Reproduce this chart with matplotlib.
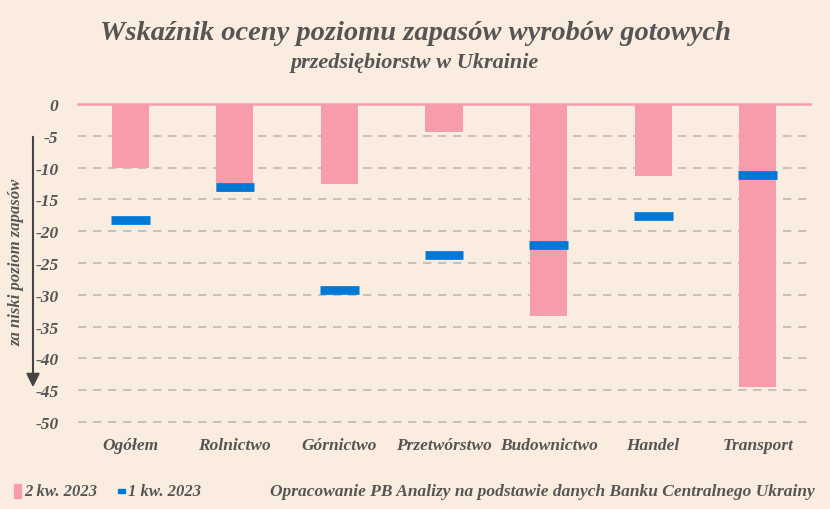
import matplotlib.pyplot as plt
import numpy as np

# data
categories = ["Ogółem", "Rolnictwo", "Górnictwo", "Przetwórstwo", "Budownictwo", "Handel", "Transport"]
q2_2023 = [-10.0, -13.9, -12.5, -4.4, -33.4, -11.3, -44.5]
q1_2023 = [-18.2, -13.1, -29.2, -23.8, -22.2, -17.6, -11.1]
yticks = [0, -5, -10, -15, -20, -25, -30, -35, -40, -45, -50]

bg = "#FAEDE0"
pink = "#F79DAA"
blue = "#0079D6"
txt = "#555555"
font = "Liberation Serif"

plt.rcParams["font.family"] = [font, "DejaVu Serif"]

fig = plt.figure(figsize=(8.3, 5.1), dpi=100, facecolor=bg)
ax = fig.add_axes([0.094, 0.1706, 0.882, 0.6235])
ax.set_facecolor(bg)

x = np.arange(len(categories))
ax.bar(x, q2_2023, width=0.355, color=pink, zorder=3)
ax.hlines(q1_2023, x - 0.185, x + 0.185, color=blue, lw=6.3, zorder=4)

ax.set_xlim(-0.5, len(categories) - 0.5)
ax.set_ylim(-50, 0)
ax.set_yticks(yticks)
ax.set_yticklabels([str(t) for t in yticks], fontsize=12.5, fontweight="bold",
                   fontstyle="italic", color=txt)
ax.set_xticks(x)
ax.set_xticklabels(categories, fontsize=12.5, fontweight="bold", fontstyle="italic", color=txt)
ax.tick_params(length=0, axis="y", pad=14)
ax.tick_params(length=0, axis="x", pad=11)
for t in yticks[1:]:
    ax.axhline(t, color="#BDBAAE", lw=1.2, ls=(0, (5, 4)), zorder=1, clip_on=False)
ax.axhline(0, color=pink, lw=1.8, zorder=2, clip_on=False)
for s in ax.spines.values():
    s.set_visible(False)

# arrow on the left
fig.patches.append(plt.matplotlib.patches.FancyArrowPatch(
    (33 / 830, 1 - 135 / 510), (33 / 830, 1 - 391 / 510), transform=fig.transFigure,
    arrowstyle="-|>,head_length=8,head_width=4", color="#444444", lw=1.5, mutation_scale=1))
fig.text(16 / 830, 1 - 262 / 510, "za niski poziom zapasów", rotation=90, ha="center", va="center",
         fontsize=12, fontweight="bold", fontstyle="italic", color=txt)

fig.text(415 / 830, 1 - 34 / 510, "Wskaźnik oceny poziomu zapasów wyrobów gotowych", ha="center",
         va="center", fontsize=20.5, fontweight="bold", fontstyle="italic", color=txt)
fig.text(415 / 830, 1 - 63 / 510, "przedsiębiorstw w Ukrainie", ha="center", va="center",
         fontsize=16, fontweight="bold", fontstyle="italic", color=txt)

# legend
ly = 1 - 492 / 510
fig.patches.append(plt.Rectangle((14 / 830, ly - 0.013), 7 / 830, 0.026, transform=fig.transFigure,
                                 color=pink))
fig.text(24 / 830, ly, "2 kw. 2023", ha="left", va="center", fontsize=12, fontweight="bold",
         fontstyle="italic", color=txt)
fig.patches.append(plt.Rectangle((118 / 830, ly - 0.004), 7 / 830, 0.008, transform=fig.transFigure,
                                 color=blue))
fig.text(128 / 830, ly, "1 kw. 2023", ha="left", va="center", fontsize=12, fontweight="bold",
         fontstyle="italic", color=txt)
fig.text(815 / 830, ly, "Opracowanie PB Analizy na podstawie danych Banku Centralnego Ukrainy",
         ha="right", va="center", fontsize=12.5, fontweight="bold", fontstyle="italic", color=txt)

fig.savefig("out.png", dpi=100, facecolor=bg)
